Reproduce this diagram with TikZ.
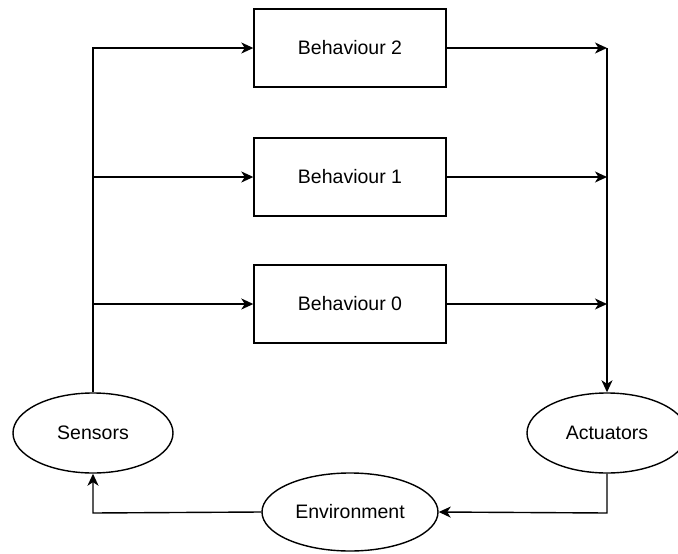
\documentclass[tikz,border=0pt]{standalone}
\usepackage{fontspec}
\setmainfont{Liberation Sans}
\usetikzlibrary{shapes.geometric,arrows.meta}
\begin{document}
\begin{tikzpicture}[x=1pt,y=-1pt,
  line width=1.4pt,
  block/.style={draw, rectangle, minimum width=192pt, minimum height=78pt, inner sep=0pt, font=\fontsize{19.5}{22}\selectfont},
  blob/.style={draw, ellipse, inner sep=0pt, font=\fontsize{19.5}{22}\selectfont},
  flow/.style={-{Stealth[length=12pt,width=11pt,inset=3.5pt]}}]
  \useasboundingbox (0,0) rectangle (678,554);
  \begin{scope}
  \clip (0,0) rectangle (678,554);

  % behaviour layers
  \node[block] (b2) at (350,48) {Behaviour 2};
  \node[block] (b1) at (350,177) {Behaviour 1};
  \node[block] (b0) at (350,304) {Behaviour 0};

  % sensing, acting and the world
  \node[blob, minimum width=160pt, minimum height=80pt] (sen) at (93,433) {Sensors};
  \node[blob, minimum width=160pt, minimum height=80pt] (act) at (607,433) {Actuators};
  \node[blob, minimum width=176pt, minimum height=78pt] (env) at (350,512) {Environment};

  % bus coordinates
  \coordinate (lt) at (93,48);
  \coordinate (l1) at (93,177);
  \coordinate (l0) at (93,304);
  \coordinate (rt) at (607,48);
  \coordinate (r1) at (607,177);
  \coordinate (r0) at (607,304);
  \coordinate (br) at (607,513);
  \coordinate (bl) at (93,513);

  % sensors feed every layer
  \draw[flow] (sen.north) -- (lt) -- (b2.west);
  \draw[flow] (l1) -- (b1.west);
  \draw[flow] (l0) -- (b0.west);

  % every layer drives the actuators
  \draw[flow] (b2.east) -- (rt);
  \draw[flow] (b1.east) -- (r1);
  \draw[flow] (b0.east) -- (r0);
  \draw[flow] (rt) -- (act.north);

  % loop through the environment
  \draw[flow] (act.south) -- (br) -- (env.east);
  \draw[flow] (env.west) -- (bl) -- (sen.south);
  \end{scope}
\end{tikzpicture}
\end{document}
